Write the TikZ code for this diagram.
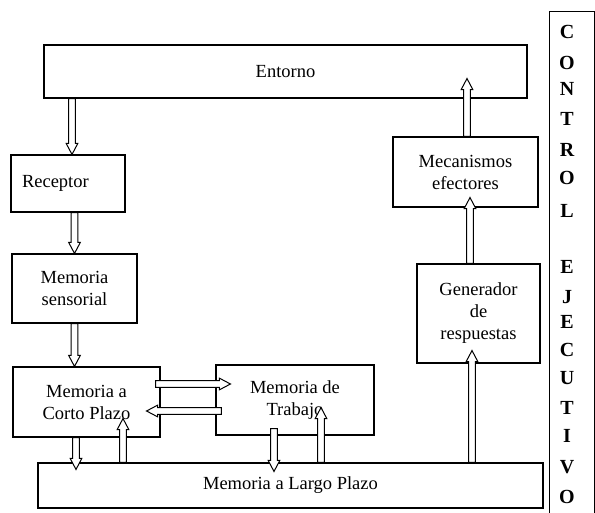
\documentclass[tikz,border=0pt]{standalone}
\usepackage{fontspec}
\setmainfont{Liberation Serif}[BoldFont={Liberation Serif Bold}]
\usetikzlibrary{calc}
\tikzset{
  box/.style={draw, line width=1.1pt, inner sep=0pt, align=center,
    font=\fontsize{18.5}{22}\selectfont},
  arrline/.style={draw, line width=1pt, fill=white, line join=miter},
  letter/.style={inner sep=0pt, font=\bfseries\fontsize{20}{22}\selectfont}
}
\newcommand\hollowarr[2]{%
  \coordinate (ha) at (#1);
  \coordinate (hb) at (#2);
  \coordinate (hc) at ($(hb)!11pt!(ha)$);
  \draw[arrline] ($(ha)!3.3pt!90:(hb)$) -- ($(hc)!3.3pt!90:(hb)$) -- ($(hc)!5.8pt!90:(hb)$)
    -- (hb) -- ($(hc)!5.8pt!-90:(hb)$) -- ($(hc)!3.3pt!-90:(hb)$) -- ($(ha)!3.3pt!-90:(hb)$) -- cycle;}
\begin{document}
\begin{tikzpicture}[x=1pt,y=-1pt]
\useasboundingbox (0,0) rectangle (595,513);
% boxes
\node[box, minimum width=483pt, minimum height=53pt] (ent) at (285.5,71.5) {Entorno};
\node[box, minimum width=114pt, minimum height=57pt, text width=92pt, inner xsep=11pt, align=left] (rec) at (68,183.5) {Receptor};
\node[box, minimum width=125pt, minimum height=69pt] (ms) at (74.5,288.5) {Memoria\\sensorial};
\node[box, minimum width=147pt, minimum height=70pt] (cp) at (86.5,402) {Memoria a\\Corto Plazo};
\node[box, minimum width=158pt, minimum height=70pt] (trab) at (295,400) {Memoria de\\Trabajo};
\node[box, minimum width=505pt, minimum height=45pt] (lp) at (290.5,485.5) {Memoria a Largo Plazo};
\node[box, minimum width=123pt, minimum height=99pt] (gen) at (478.5,313.5) {Generador\\de\\respuestas};
\node[box, minimum width=145pt, minimum height=70pt] (mec) at (465.5,172) {Mecanismos\\efectores};
% control ejecutivo
\node[draw, line width=1.1pt, minimum width=45pt, minimum height=530pt, anchor=north west, inner sep=0pt] (ctrl) at (549,11) {};
\foreach \l/\y [count=\i] in {C/32,O/63,N/89,T/119,R/150,O/178,L/211,E/267,J/297,E/322,C/350,U/378,T/408,I/436,V/467,O/497}
  \node[letter] (c\i) at (567,\y) {\l};
% arrows
\coordinate (r1) at ($(rec.north)+(4,0)$);
\hollowarr{r1 |- ent.south}{r1}
\hollowarr{ms.north |- rec.south}{ms.north}
\hollowarr{ms.south}{ms.south |- cp.north}
\hollowarr{$(cp.east)+(-5,-18)$}{$(trab.west)+(15,-16)$}
\hollowarr{$(trab.west)+(6,11)$}{$(cp.east)+(-14,9)$}
\hollowarr{$(cp.south)+(-10.5,0)$}{$(lp.north)+(-214.5,7)$}
\hollowarr{$(lp.north)+(-167.5,0)$}{$(cp.south)+(36.5,-19)$}
\hollowarr{$(trab.south)+(-21,-7)$}{$(lp.north)+(-16.5,9)$}
\hollowarr{$(lp.north)+(30.5,0)$}{$(trab.south)+(26,-28)$}
\hollowarr{$(lp.north)+(181.5,0)$}{$(gen.south)+(-6.5,-13)$}
\hollowarr{$(gen.north)+(-8.5,0)$}{$(mec.south)+(4.5,-10)$}
\hollowarr{$(mec.north)+(1.5,0)$}{$(ent.south)+(181.5,-20)$}
\end{tikzpicture}
\end{document}
